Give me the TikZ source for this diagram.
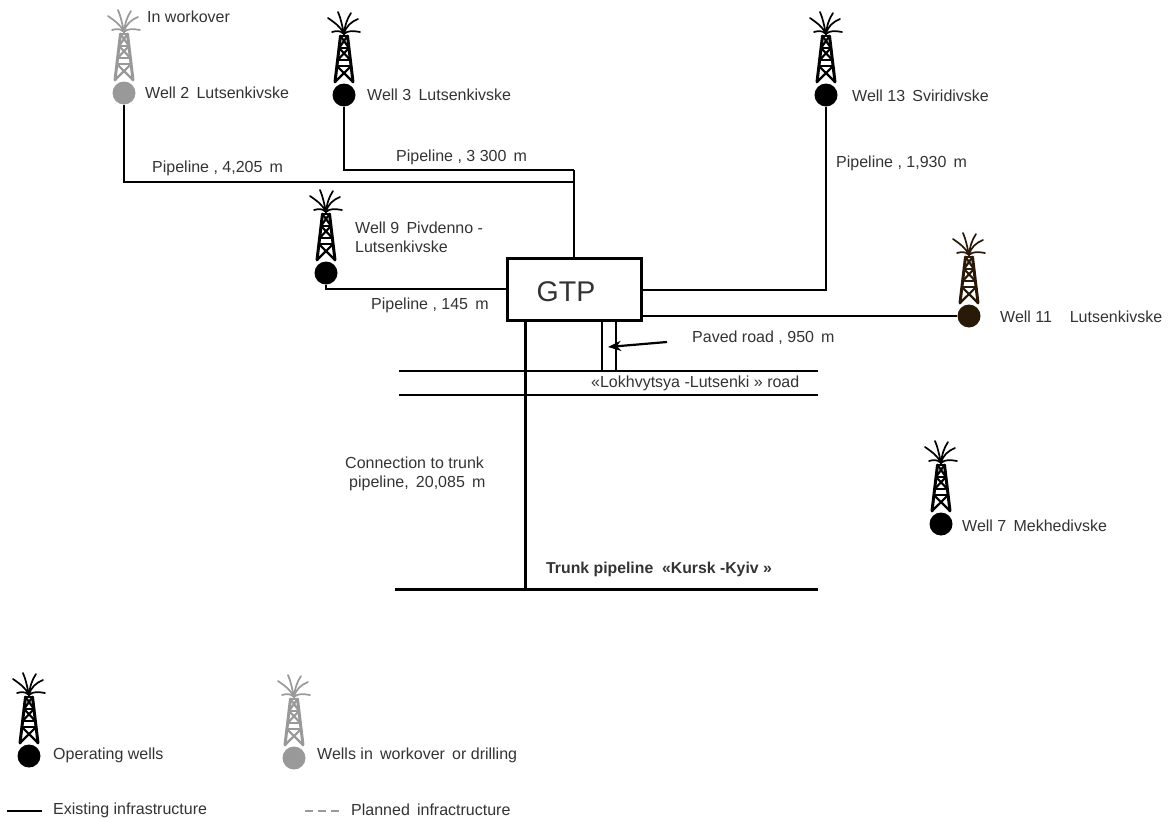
\documentclass[tikz,border=0pt]{standalone}
\usepackage{fontspec}
\setmainfont{Liberation Sans}
\usetikzlibrary{arrows.meta}
\definecolor{opwell}{gray}{0}
\definecolor{offwell}{gray}{0.6}
\definecolor{brownwell}{rgb}{0.16,0.10,0.03}
\definecolor{labeltext}{gray}{0.2}
\tikzset{
  lbl/.style={anchor=west,inner sep=0pt,text=labeltext,font=\fontsize{16}{18}\selectfont},
  wellhead/.style={circle,fill=#1,inner sep=0pt,minimum size=23pt},
  pipe/.style={line width=1.6pt},
  trunk/.style={line width=3pt},
}
\newcommand{\wgap}{\hspace{.45em}}
% tower and fronds above a well head
\newcommand{\derrick}[2]{%
  \begin{scope}[shift={(#1)},#2,line cap=round]
    \draw[line width=3pt] (-9,-13)--(-3.5,-59) (9,-13)--(3.5,-59);
    \draw[line width=2.2pt] (-3.5,-59)--(3.5,-59) (-5,-47)--(5,-47) (-6.4,-35)--(6.4,-35) (-7.1,-29)--(7.1,-29);
    \draw[line width=2.2pt] (-3.5,-59)--(5,-47) (3.5,-59)--(-5,-47) (-5,-47)--(6.4,-35) (5,-47)--(-6.4,-35) (-7.1,-29)--(9,-13) (7.1,-29)--(-9,-13);
    \draw[line width=1.7pt] (0,-61) .. controls (-4,-69) and (-9,-72) .. (-16,-77);
    \draw[line width=1.7pt] (0,-61) .. controls (-2,-70) and (-3,-76) .. (-6,-83);
    \draw[line width=1.7pt] (0,-61) .. controls (1,-70) and (3,-76) .. (7,-82);
    \draw[line width=1.7pt] (0,-61) .. controls (2,-69) and (7,-73) .. (14,-76);
    \draw[line width=1.7pt] (0,-61) .. controls (-4,-65) and (-8,-64) .. (-12,-63);
    \draw[line width=1.7pt] (0,-61) .. controls (4,-65) and (10,-64) .. (16,-63);
  \end{scope}}

\begin{document}
\begin{tikzpicture}[x=1pt,y=-1pt]
  \useasboundingbox (0,0) rectangle (1168,819);
  % ---- wells ----
  \node[wellhead=offwell] (well2) at (124,93) {};
  \node[wellhead=opwell] (well3) at (344,95) {};
  \node[wellhead=opwell] (well13) at (826,95) {};
  \node[wellhead=opwell] (well9) at (326,273) {};
  \node[wellhead=brownwell] (well11) at (969,316) {};
  \node[wellhead=opwell] (well7) at (941,524) {};
  \derrick{124,93}{offwell}
  \derrick{344,95}{opwell}
  \derrick{826,95}{opwell}
  \derrick{326,273}{opwell}
  \derrick{969,316}{brownwell}
  \derrick{941,524}{opwell}
  % ---- gas treatment plant ----
  \node[draw,line width=3pt,minimum width=134pt,minimum height=62pt,inner sep=0pt] (gtp) at (574,289) {};
  \node[inner sep=0pt,text=labeltext,font=\fontsize{28.5}{30}\selectfont] (gtplabel) at (566,292) {GTP};
  % ---- pipelines ----
  \coordinate (joint2) at (574,182);
  \coordinate (joint3) at (574,170);
  \coordinate (roadnorth) at (399,371);
  \coordinate (roadnorthend) at (818,371);
  \coordinate (roadsouth) at (399,395);
  \coordinate (roadsouthend) at (818,395);
  \coordinate (trunkwest) at (395,589);
  \coordinate (trunkeast) at (818,589);
  \coordinate (trunktee) at (525,589);
  \coordinate (pavedwest) at (602,371);
  \coordinate (pavedeast) at (616,371);
  \coordinate (arrowtail) at (667,342);
  \coordinate (arrowhead) at (608,347);
  \draw[pipe] (well2.south) |- (joint2);
  \draw[pipe] (well3.south) |- (joint3);
  \draw[line width=2.4pt] (joint3) -- (joint3 |- gtp.north);
  \draw[pipe] (well13.south) |- (gtp.east |- 0,290);
  \draw[pipe] (well9.south) |- (gtp.west |- 0,289);
  \draw[pipe] (well11.west) -- (gtp.east |- well11.west);
  \draw[trunk] (trunktee |- gtp.south) -- (trunktee);
  \draw[trunk] (trunkwest) -- (trunkeast);
  % ---- road ----
  \draw[pipe] (roadnorth) -- (roadnorthend);
  \draw[pipe] (roadsouth) -- (roadsouthend);
  \draw[pipe] (pavedwest |- gtp.south) -- (pavedwest);
  \draw[pipe] (pavedeast |- gtp.south) -- (pavedeast);
  \draw[-{Stealth[length=13pt,width=10pt]},line width=2.2pt] (arrowtail) -- (arrowhead);
  % ---- labels ----
  \node[lbl] (lworkover) at (147,17) {In workover};
  \node[lbl] (lwell2) at (145,93) {Well 2\wgap Lutsenkivske};
  \node[lbl] (lwell3) at (367,95) {Well 3\wgap Lutsenkivske};
  \node[lbl] (lwell13) at (852,96) {Well 13\wgap Sviridivske};
  \node[lbl] (lpipe2) at (152,168) {Pipeline , 4,205\wgap m};
  \node[lbl] (lpipe3) at (396,157) {Pipeline , 3 300\wgap m};
  \node[lbl] (lpipe13) at (836,163) {Pipeline , 1,930\wgap m};
  \node[lbl] (lwell9a) at (355,228) {Well 9\wgap Pivdenno -};
  \node[lbl] (lwell9b) at (355,247) {Lutsenkivske};
  \node[lbl] (lpipe9) at (371,305) {Pipeline , 145\wgap m};
  \node[lbl] (lwell11) at (1000,317) {Well 11~~~~Lutsenkivske};
  \node[lbl] (lpaved) at (692,338) {Paved road , 950\wgap m};
  \node[lbl] (lroad) at (591,383) {«Lokhvytsya -Lutsenki » road};
  \node[lbl] (lconna) at (345,463) {Connection to trunk};
  \node[lbl] (lconnb) at (349,483) {pipeline,\wgap 20,085\wgap m};
  \node[lbl] (lwell7) at (962,526) {Well 7\wgap Mekhedivske};
  \node[lbl,font=\fontsize{15.8}{18}\selectfont\bfseries] (ltrunk) at (546,569) {Trunk pipeline~~«Kursk -Kyiv »};
  % ---- legend ----
  \node[wellhead=opwell] (keyop) at (29,756) {};
  \node[wellhead=offwell] (keyoff) at (294,758) {};
  \derrick{29,756}{opwell}
  \derrick{294,758}{offwell}
  \node[lbl] (lkeyop) at (53,755) {Operating wells};
  \node[lbl] (lkeyoff) at (317,755) {Wells in\wgap workover\wgap or drilling};
  \coordinate (keylinea) at (7,811);
  \coordinate (keylineb) at (42,811);
  \coordinate (keydasha) at (305,811);
  \coordinate (keydashb) at (340,811);
  \draw[pipe] (keylinea) -- (keylineb);
  \draw[pipe,offwell,line width=2pt,dash pattern=on 8pt off 5pt] (keydasha) -- (keydashb);
  \node[lbl] (lkeyline) at (53,810) {Existing infrastructure};
  \node[lbl] (lkeydash) at (351,810) {Planned\wgap infractructure};
\end{tikzpicture}
\end{document}
